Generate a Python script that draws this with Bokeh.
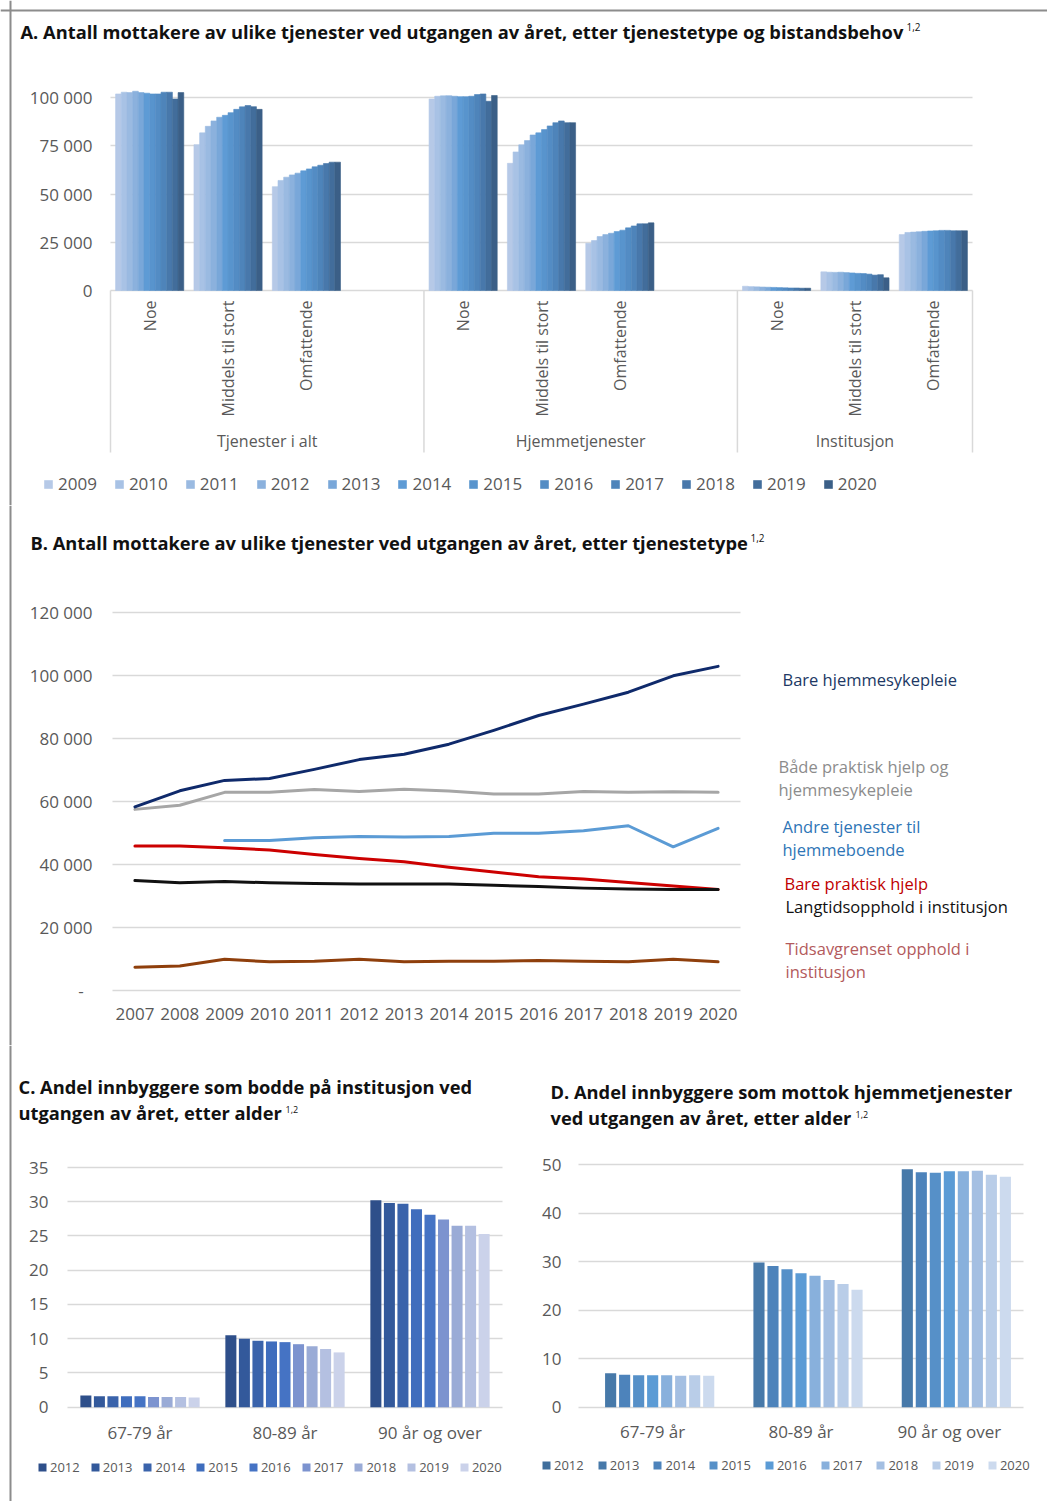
import math
from bokeh.plotting import figure
from bokeh.models import (FixedTicker, Range1d, Label, Legend, LegendItem, Span)
from bokeh.layouts import column, row
from bokeh.embed import file_html
from bokeh.resources import INLINE
from bokeh.core.properties import value

NaN = float("nan")
FONT = "Open Sans"
TXT = "#595959"
GRID = "#d9d9d9"
TITLE_COLOR = "#111111"
FRAME = "#8c8c8c"

# ---------------- Panel A data ----------------
a_title = "A. Antall mottakere av ulike tjenester ved utgangen av året, etter tjenestetype og bistandsbehov"
a_note = "1,2"
a_groups = ["Tjenester i alt", "Hjemmetjenester", "Institusjon"]
a_needs = ["Noe", "Middels til stort", "Omfattende"]
a_years = ["2009", "2010", "2011", "2012", "2013", "2014",
           "2015", "2016", "2017", "2018", "2019", "2020"]
a_colors = ["#b6c9e7", "#a8c2e5", "#9abae1", "#8bb1dd", "#79a7d9", "#5e9bd5",
            "#5894cd", "#538cc4", "#4e84ba", "#4878ab", "#426d9b", "#3b5f87"]
a_total_noe = [102000, 102900, 102700, 103400, 102700, 102400, 102000, 102000, 102900, 102900, 99400, 102700]
a_total_mid = [75700, 81800, 85200, 88000, 89900, 90900, 92300, 94000, 95300, 96000, 95400, 94000]
a_total_omf = [53900, 57100, 58800, 60000, 60900, 62100, 63100, 64200, 65000, 65900, 66600, 66600]
a_home_noe = [99400, 100800, 101000, 101100, 100800, 100600, 100600, 100800, 101700, 102000, 98200, 101200]
a_home_mid = [66000, 71900, 75600, 77800, 80700, 81800, 83500, 85400, 87100, 88000, 87100, 87100]
a_home_omf = [24500, 25900, 28000, 29000, 29700, 30600, 31300, 32500, 33500, 34600, 34600, 35100]
a_inst_noe = [2200, 2000, 1900, 1800, 1700, 1600, 1500, 1400, 1300, 1300, 1200, 1200]
a_inst_mid = [9700, 9500, 9400, 9500, 9300, 9100, 8900, 8800, 8500, 8000, 8200, 6600]
a_inst_omf = [29000, 30100, 30300, 30500, 30700, 30900, 31000, 31200, 31200, 31000, 31000, 31000]
a_values = [[a_total_noe, a_total_mid, a_total_omf],
            [a_home_noe, a_home_mid, a_home_omf],
            [a_inst_noe, a_inst_mid, a_inst_omf]]
a_yticks = [0, 25000, 50000, 75000, 100000]

# ---------------- Panel B data ----------------
b_title = "B. Antall mottakere av ulike tjenester ved utgangen av året, etter tjenestetype"
b_years = [2007, 2008, 2009, 2010, 2011, 2012, 2013, 2014, 2015, 2016, 2017, 2018, 2019, 2020]
b_home_nursing = [58300, 63400, 66700, 67300, 70200, 73300, 75000, 78200, 82600, 87300, 90900, 94700, 99900, 102900]
b_both = [57500, 58800, 62900, 62900, 63800, 63200, 63900, 63300, 62400, 62400, 63200, 62900, 63100, 62900]
b_other = [NaN, NaN, 47600, 47600, 48500, 48900, 48700, 48900, 49900, 49900, 50700, 52300, 45600, 51500]
b_practical = [45900, 45900, 45300, 44600, 43200, 41900, 40900, 39100, 37600, 36100, 35400, 34300, 33200, 32100]
b_longterm = [34900, 34200, 34600, 34200, 34000, 33800, 33800, 33800, 33400, 33000, 32500, 32200, 32100, 32100]
b_temporary = [7400, 7800, 9900, 9100, 9300, 9900, 9100, 9300, 9300, 9500, 9300, 9100, 9900, 9100]
b_names = [["Bare hjemmesykepleie"],
           ["Både praktisk hjelp og", "hjemmesykepleie"],
           ["Andre tjenester til", "hjemmeboende"],
           ["Bare praktisk hjelp"],
           ["Langtidsopphold i institusjon"],
           ["Tidsavgrenset opphold i", "institusjon"]]
b_line_colors = ["#0f2a6b", "#a6a6a6", "#5b9bd5", "#cc0000", "#111111", "#8f3f0c"]
b_text_colors = ["#203864", "#8c8c8c", "#2e75b6", "#c00000", "#111111", "#b35a5c"]
b_yticks = [0, 20000, 40000, 60000, 80000, 100000, 120000]

# ---------------- Panel C data ----------------
c_title = ["C. Andel innbyggere som bodde på institusjon ved", "utgangen av året, etter alder"]
c_ages = ["67-79 år", "80-89 år", "90 år og over"]
c_years = ["2012", "2013", "2014", "2015", "2016", "2017", "2018", "2019", "2020"]
c_colors = ["#2e4f8a", "#33599b", "#3a63ab", "#3f6dbd", "#4573c4", "#7c93cf", "#9aabd6", "#b4c0e1", "#cbd2ea"]
c_6779 = [1.7, 1.6, 1.6, 1.6, 1.6, 1.5, 1.5, 1.5, 1.4]
c_8089 = [10.5, 10.0, 9.7, 9.6, 9.5, 9.2, 8.9, 8.5, 8.0]
c_90 = [30.2, 29.8, 29.7, 28.9, 28.1, 27.4, 26.5, 26.5, 25.3]
c_yticks = [0, 5, 10, 15, 20, 25, 30, 35]

# ---------------- Panel D data ----------------
d_title = ["D. Andel innbyggere som mottok hjemmetjenester", "ved utgangen av året, etter alder"]
d_ages = ["67-79 år", "80-89 år", "90 år og over"]
d_years = ["2012", "2013", "2014", "2015", "2016", "2017", "2018", "2019", "2020"]
d_colors = ["#3f6e9c", "#4779a9", "#4d83bb", "#5690c8", "#5b9bd5", "#88b0dc", "#a4bfe2", "#b9cde8", "#ccdaee"]
d_6779 = [NaN, 7.0, 6.7, 6.6, 6.6, 6.6, 6.5, 6.6, 6.5]
d_8089 = [NaN, 29.8, 29.1, 28.4, 27.6, 27.1, 26.2, 25.4, 24.2]
d_90 = [NaN, 49.0, 48.4, 48.3, 48.6, 48.6, 48.7, 47.9, 47.5]
d_yticks = [0, 10, 20, 30, 40, 50]


def spaced(v):
    return f"{v:,}".replace(",", " ")


def mapper(rx0, rx1, dx0, dx1, ry0, ry1, dy0, dy1):
    def f(rx, ry):
        return (dx0 + (rx - rx0) * (dx1 - dx0) / (rx1 - rx0),
                dy0 + (ry - ry0) * (dy1 - dy0) / (ry1 - ry0))
    return f


def base_fig(M, left, top, right, bottom, **kw):
    """Figure whose frame covers the whole canvas [left..right] x [top..bottom]
    in page pixels; M maps page pixels to data coordinates."""
    x0, y1 = M(left, bottom)
    x1, y0 = M(right, top)
    p = figure(width=right - left, height=bottom - top,
               x_range=Range1d(x0, x1), y_range=Range1d(y1, y0),
               output_backend="svg", toolbar_location=None,
               min_border_left=0, min_border_right=0,
               min_border_top=0, min_border_bottom=0,
               outline_line_color=None, background_fill_color="white",
               border_fill_color="white", **kw)
    for g in p.xgrid:
        g.visible = False
    for g in p.ygrid:
        g.grid_line_color = GRID
        g.grid_line_width = 1.5
    return p


def limit_grid(p, xlo, xhi, ticks):
    ok = True
    for g in p.ygrid:
        try:
            g.cross_bounds = (xlo, xhi)
        except Exception:
            ok = False
    if not ok:
        for g in p.ygrid:
            g.visible = False
        p.segment(x0=[xlo] * len(ticks), y0=ticks, x1=[xhi] * len(ticks), y1=ticks,
                  line_color=GRID, line_width=1.5)


def style_axis(ax, standoff, fixed, size="17px"):
    ax.fixed_location = fixed
    ax.axis_line_color = None
    ax.major_tick_line_color = None
    ax.minor_tick_line_color = None
    ax.major_tick_out = 0
    ax.major_tick_in = 0
    ax.minor_tick_out = 0
    ax.minor_tick_in = 0
    ax.major_label_standoff = standoff
    ax.major_label_text_font = FONT
    ax.major_label_text_font_size = size
    ax.major_label_text_color = TXT


def add_label(p, xy, text, size, color=TITLE_COLOR, bold=False, align="left"):
    p.add_layout(Label(x=xy[0], y=xy[1], text=text, text_font=FONT,
                       text_font_size=size, text_color=color,
                       text_font_style="bold" if bold else "normal",
                       text_baseline="middle", text_align=align))


def make_legend(items, loc, standoff, spacing, size):
    return Legend(items=items, location=loc, orientation="horizontal",
                  glyph_width=10, glyph_height=10, label_standoff=standoff,
                  spacing=spacing, padding=0, margin=0, label_height=20,
                  label_text_font=FONT, label_text_font_size=size,
                  label_text_color=TXT, border_line_color=None,
                  background_fill_alpha=0)


def frame_lines(p, M, top=False):
    # decorative outer frame of the original figure (left edge, and top edge)
    p.add_layout(Span(location=M(10, 0)[0], dimension="height",
                      line_color=FRAME, line_width=2))
    if top:
        p.add_layout(Span(location=M(0, 10)[1], dimension="width",
                          line_color=FRAME, line_width=2))


TITLE_SIZE = "18.3px"

# ======================= Panel A (page y 0..505) =======================
A = mapper(110, 972, -0.5, 10.5, 290, 97.3, 0, 100000)
pA = base_fig(A, 0, 0, 1047, 505, x_axis_location=None)
pA.yaxis.ticker = FixedTicker(ticks=a_yticks)
pA.yaxis.major_label_overrides = {t: spaced(t) for t in a_yticks}
style_axis(pA.yaxis[0], 18, -0.5)
limit_grid(pA, -0.5, 10.5, a_yticks)

slots = [g * 4 + k for g in range(len(a_groups)) for k in range(len(a_needs))]
cluster = 0.87
bw = cluster / len(a_years)
itemsA = []
for j, yr in enumerate(a_years):
    tops = [a_values[g][k][j] for g in range(3) for k in range(3)]
    xs = [s - cluster / 2 + bw * (j + 0.5) for s in slots]
    r = pA.vbar(x=xs, top=tops, width=bw, fill_color=a_colors[j],
                line_color=a_colors[j], line_width=0.6)
    itemsA.append(LegendItem(label=yr, renderers=[r]))

sep_x = [-0.5, 3.5, 7.5, 10.5]
pA.segment(x0=sep_x, y0=[0] * 4, x1=sep_x, y1=[A(0, 452)[1]] * 4,
           line_color=GRID, line_width=1.5)
pA.text(x=slots, y=[A(0, 300)[1]] * len(slots), text=a_needs * len(a_groups),
        angle=math.pi / 2, text_align="right", text_baseline="middle",
        text_font=value(FONT), text_font_size="16px", text_color=TXT)
pA.text(x=[1.5, 5.5, 9.0], y=[A(0, 440)[1]] * 3, text=a_groups,
        text_align="center", text_baseline="middle",
        text_font=value(FONT), text_font_size="16px", text_color=TXT)

pA.add_layout(make_legend(itemsA, (43, 10), 5, 17, "17px"))
add_label(pA, A(20, 31), a_title, TITLE_SIZE, bold=True)
add_label(pA, A(906, 26), a_note, "10px")
frame_lines(pA, A, top=True)

# ======================= Panel B (page y 505..1045) =======================
B = mapper(112, 740, 2006.5, 2020.5, 990, 612, 0, 120000)
pB = base_fig(B, 0, 505, 1047, 1045)
pB.xaxis.ticker = FixedTicker(ticks=b_years)
pB.xaxis.major_label_overrides = {y: str(y) for y in b_years}
pB.yaxis.ticker = FixedTicker(ticks=b_yticks)
pB.yaxis.major_label_overrides = {t: (spaced(t) if t else "-\u00a0\u00a0") for t in b_yticks}
style_axis(pB.xaxis[0], 17, 0)
style_axis(pB.yaxis[0], 20, 2006.5)
limit_grid(pB, 2006.5, 2020.5, b_yticks)

b_series = [b_home_nursing, b_both, b_other, b_practical, b_longterm, b_temporary]
for idx in [5, 3, 4, 2, 1, 0]:
    pB.line(b_years, b_series[idx], line_width=3, line_color=b_line_colors[idx],
            line_join="round", line_cap="round")

b_label_pos = [[(782, 679)], [(778, 766), (778, 789)], [(782, 826), (782, 849)],
               [(784, 883)], [(785, 906)], [(785, 948), (785, 971)]]
for names, poss, col in zip(b_names, b_label_pos, b_text_colors):
    for txt, (rx, ry) in zip(names, poss):
        add_label(pB, B(rx, ry), txt, "16.5px", color=col)
add_label(pB, B(30, 542), b_title, TITLE_SIZE, bold=True)
add_label(pB, B(750, 537), a_note, "10px")
frame_lines(pB, B)

# ======================= Panel C (page x 0..519, y 1045..1501) =======================
C = mapper(67, 502, 0, 3, 1406.7, 1167, 0, 35)
pC = base_fig(C, 0, 1045, 519, 1501)
pC.yaxis.ticker = FixedTicker(ticks=c_yticks)
pC.xaxis.ticker = FixedTicker(ticks=[i + 0.5 for i in range(len(c_ages))])
pC.xaxis.major_label_overrides = {i + 0.5: a for i, a in enumerate(c_ages)}
style_axis(pC.xaxis[0], 14, 0)
style_axis(pC.yaxis[0], 19, 0)
limit_grid(pC, 0, 3, c_yticks)
c_rows = [c_6779, c_8089, c_90]
clC = 0.84
pitchC = clC / len(c_years)
itemsC = []
for j, yr in enumerate(c_years):
    xs = [i + 0.5 - clC / 2 + pitchC * (j + 0.5) for i in range(len(c_ages))]
    r = pC.vbar(x=xs, top=[c_rows[i][j] for i in range(len(c_ages))], width=0.076,
                fill_color=c_colors[j], line_color=None)
    itemsC.append(LegendItem(label=yr, renderers=[r]))
pC.add_layout(make_legend(itemsC, (37, 24), 3, 10, "13px"))
add_label(pC, C(18, 1086), c_title[0], TITLE_SIZE, bold=True)
add_label(pC, C(18, 1112), c_title[1], TITLE_SIZE, bold=True)
add_label(pC, C(285, 1109), a_note, "9px")
frame_lines(pC, C)

# ======================= Panel D (page x 519..1047, y 1045..1501) =======================
D = mapper(578, 1023, 0, 3, 1406.7, 1164, 0, 50)
pD = base_fig(D, 519, 1045, 1047, 1501)
pD.yaxis.ticker = FixedTicker(ticks=d_yticks)
pD.xaxis.ticker = FixedTicker(ticks=[i + 0.5 for i in range(len(d_ages))])
pD.xaxis.major_label_overrides = {i + 0.5: a for i, a in enumerate(d_ages)}
style_axis(pD.xaxis[0], 13, 0)
style_axis(pD.yaxis[0], 17, 0)
limit_grid(pD, 0, 3, d_yticks)
d_rows = [d_6779, d_8089, d_90]
clD = 0.85
pitchD = clD / len(d_years)
itemsD = []
for j, yr in enumerate(d_years):
    xs = [i + 0.5 - clD / 2 + pitchD * (j + 0.5) for i in range(len(d_ages))]
    r = pD.vbar(x=xs, top=[d_rows[i][j] for i in range(len(d_ages))], width=0.075,
                fill_color=d_colors[j], line_color=None)
    itemsD.append(LegendItem(label=yr, renderers=[r]))
pD.add_layout(make_legend(itemsD, (22, 26), 3, 13, "13px"))
add_label(pD, D(550, 1091), d_title[0], TITLE_SIZE, bold=True)
add_label(pD, D(550, 1117), d_title[1], TITLE_SIZE, bold=True)
add_label(pD, D(855, 1114), a_note, "9px")

layout = column(pA, pB, row(pC, pD, spacing=0), spacing=0)
open("out.html", "w").write(file_html(layout, INLINE, "Mottakere av tjenester"))
